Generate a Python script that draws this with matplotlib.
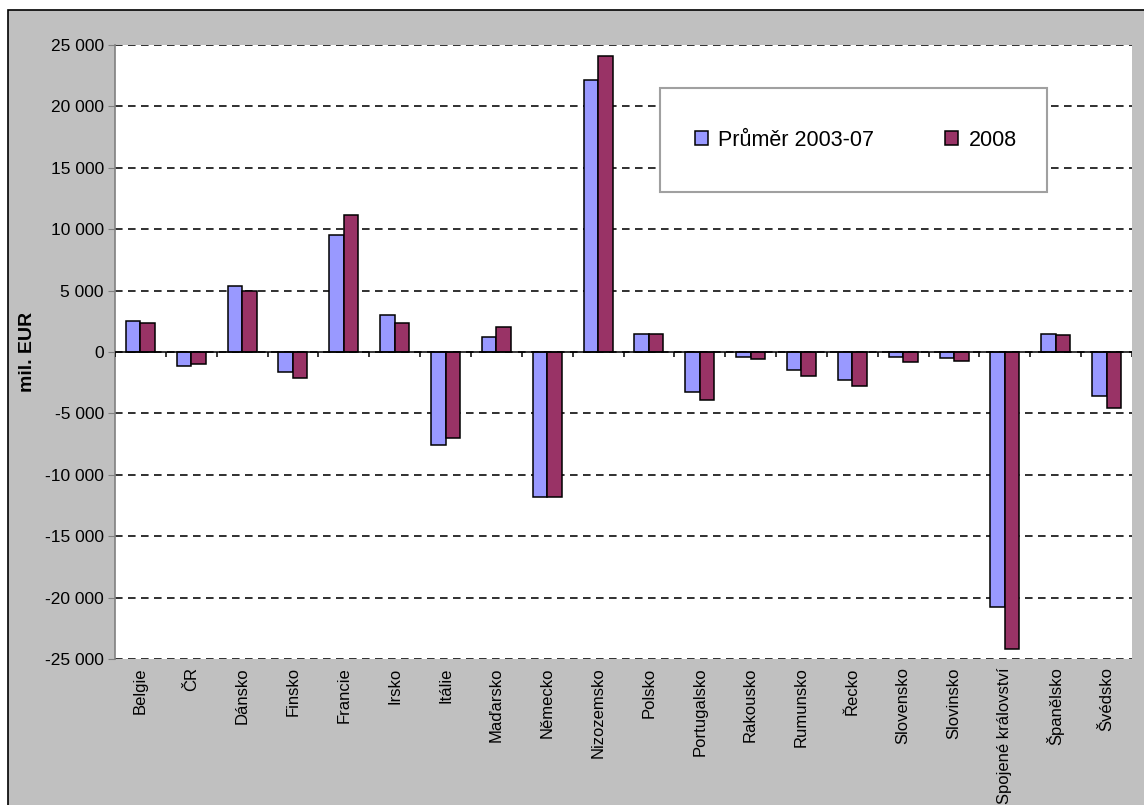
import numpy as np
import matplotlib.pyplot as plt
from matplotlib.patches import Rectangle

plt.rcParams['font.family'] = ['Liberation Sans', 'DejaVu Sans']

# Data (mil. EUR)
countries = ["Belgie", "ČR", "Dánsko", "Finsko", "Francie", "Irsko", "Itálie",
             "Maďarsko", "Německo", "Nizozemsko", "Polsko", "Portugalsko",
             "Rakousko", "Rumunsko", "Řecko", "Slovensko", "Slovinsko",
             "Spojené království", "Španělsko", "Švédsko"]
avg_2003_07 = [2500, -1100, 5350, -1600, 9500, 3000, -7550, 1250, -11800, 22150,
               1500, -3250, -400, -1450, -2250, -400, -500, -20750, 1500, -3550]
val_2008 = [2400, -1000, 4950, -2150, 11150, 2400, -7000, 2000, -11800, 24100,
            1500, -3900, -550, -1950, -2750, -850, -700, -24150, 1350, -4600]
legend_labels = ["Průměr 2003-07", "2008"]
yticks = np.arange(-25000, 25001, 5000)

blue = "#9999FF"
red = "#993366"
gray_bg = "#C0C0C0"

fig = plt.figure(figsize=(11.44, 8.05), dpi=100, facecolor="white")
# outer gray chart area with black border
fig.patches.append(Rectangle((8 / 1144, -0.05), 1.0, 1 - 10 / 805 + 0.05,
                             transform=fig.transFigure, facecolor=gray_bg,
                             edgecolor="black", linewidth=1.2, zorder=-10))

ax = fig.add_axes([115 / 1144, 1 - 659 / 805, (1132 - 115) / 1144, (659 - 45) / 805])
ax.set_facecolor("white")

x = np.arange(len(countries))
w = 0.285
ax.bar(x - w / 2, avg_2003_07, w, color=blue, edgecolor="black", linewidth=1.1,
       label=legend_labels[0], zorder=3)
ax.bar(x + w / 2, val_2008, w, color=red, edgecolor="black", linewidth=1.1,
       label=legend_labels[1], zorder=3)

ax.set_xlim(-0.5, len(countries) - 0.5)
ax.set_ylim(-25000, 25000)

# dashed gridlines
for yv in yticks:
    ax.axhline(yv, color="#202020", linewidth=1.3, dashes=(4.2, 3.0), zorder=1)

# zero axis line with category separator ticks
ax.axhline(0, color="black", linewidth=1.1, zorder=4)
ax.vlines(np.arange(len(countries) + 1) - 0.5, -420, 0, color="black",
          linewidth=1.1, zorder=4)

ax.set_yticks(yticks)
ax.set_yticklabels([f"{v:,}".replace(",", " ") for v in yticks], fontsize=12.5)
ax.tick_params(axis="y", direction="out", length=5, color="#808080", pad=3)

ax.set_xticks(x)
ax.set_xticklabels(countries, rotation=90, fontsize=12, va="top")
ax.tick_params(axis="x", length=0, pad=6)

for s in ["top", "right", "bottom"]:
    ax.spines[s].set_visible(False)
ax.spines["left"].set_color("#808080")
ax.spines["left"].set_linewidth(1.2)

fig.text(28 / 1144, 1 - 352 / 805, "mil. EUR", rotation=90, fontsize=14,
         fontweight="bold", ha="center", va="center")

# legend box
fig.patches.append(Rectangle((660 / 1144, 1 - 192 / 805), (1047 - 660) / 1144,
                             (192 - 88) / 805, transform=fig.transFigure,
                             facecolor="white", edgecolor="#A0A0A0",
                             linewidth=1.5, zorder=5))
leg = fig.legend(loc="center", bbox_to_anchor=(856 / 1144, 1 - 140 / 805),
                 ncol=2, frameon=False, fontsize=15.5, handlelength=0.6,
                 handleheight=0.6, handletextpad=0.5, columnspacing=3.3)
leg.set_zorder(6)

fig.savefig("out.png", dpi=100, facecolor=fig.get_facecolor())
